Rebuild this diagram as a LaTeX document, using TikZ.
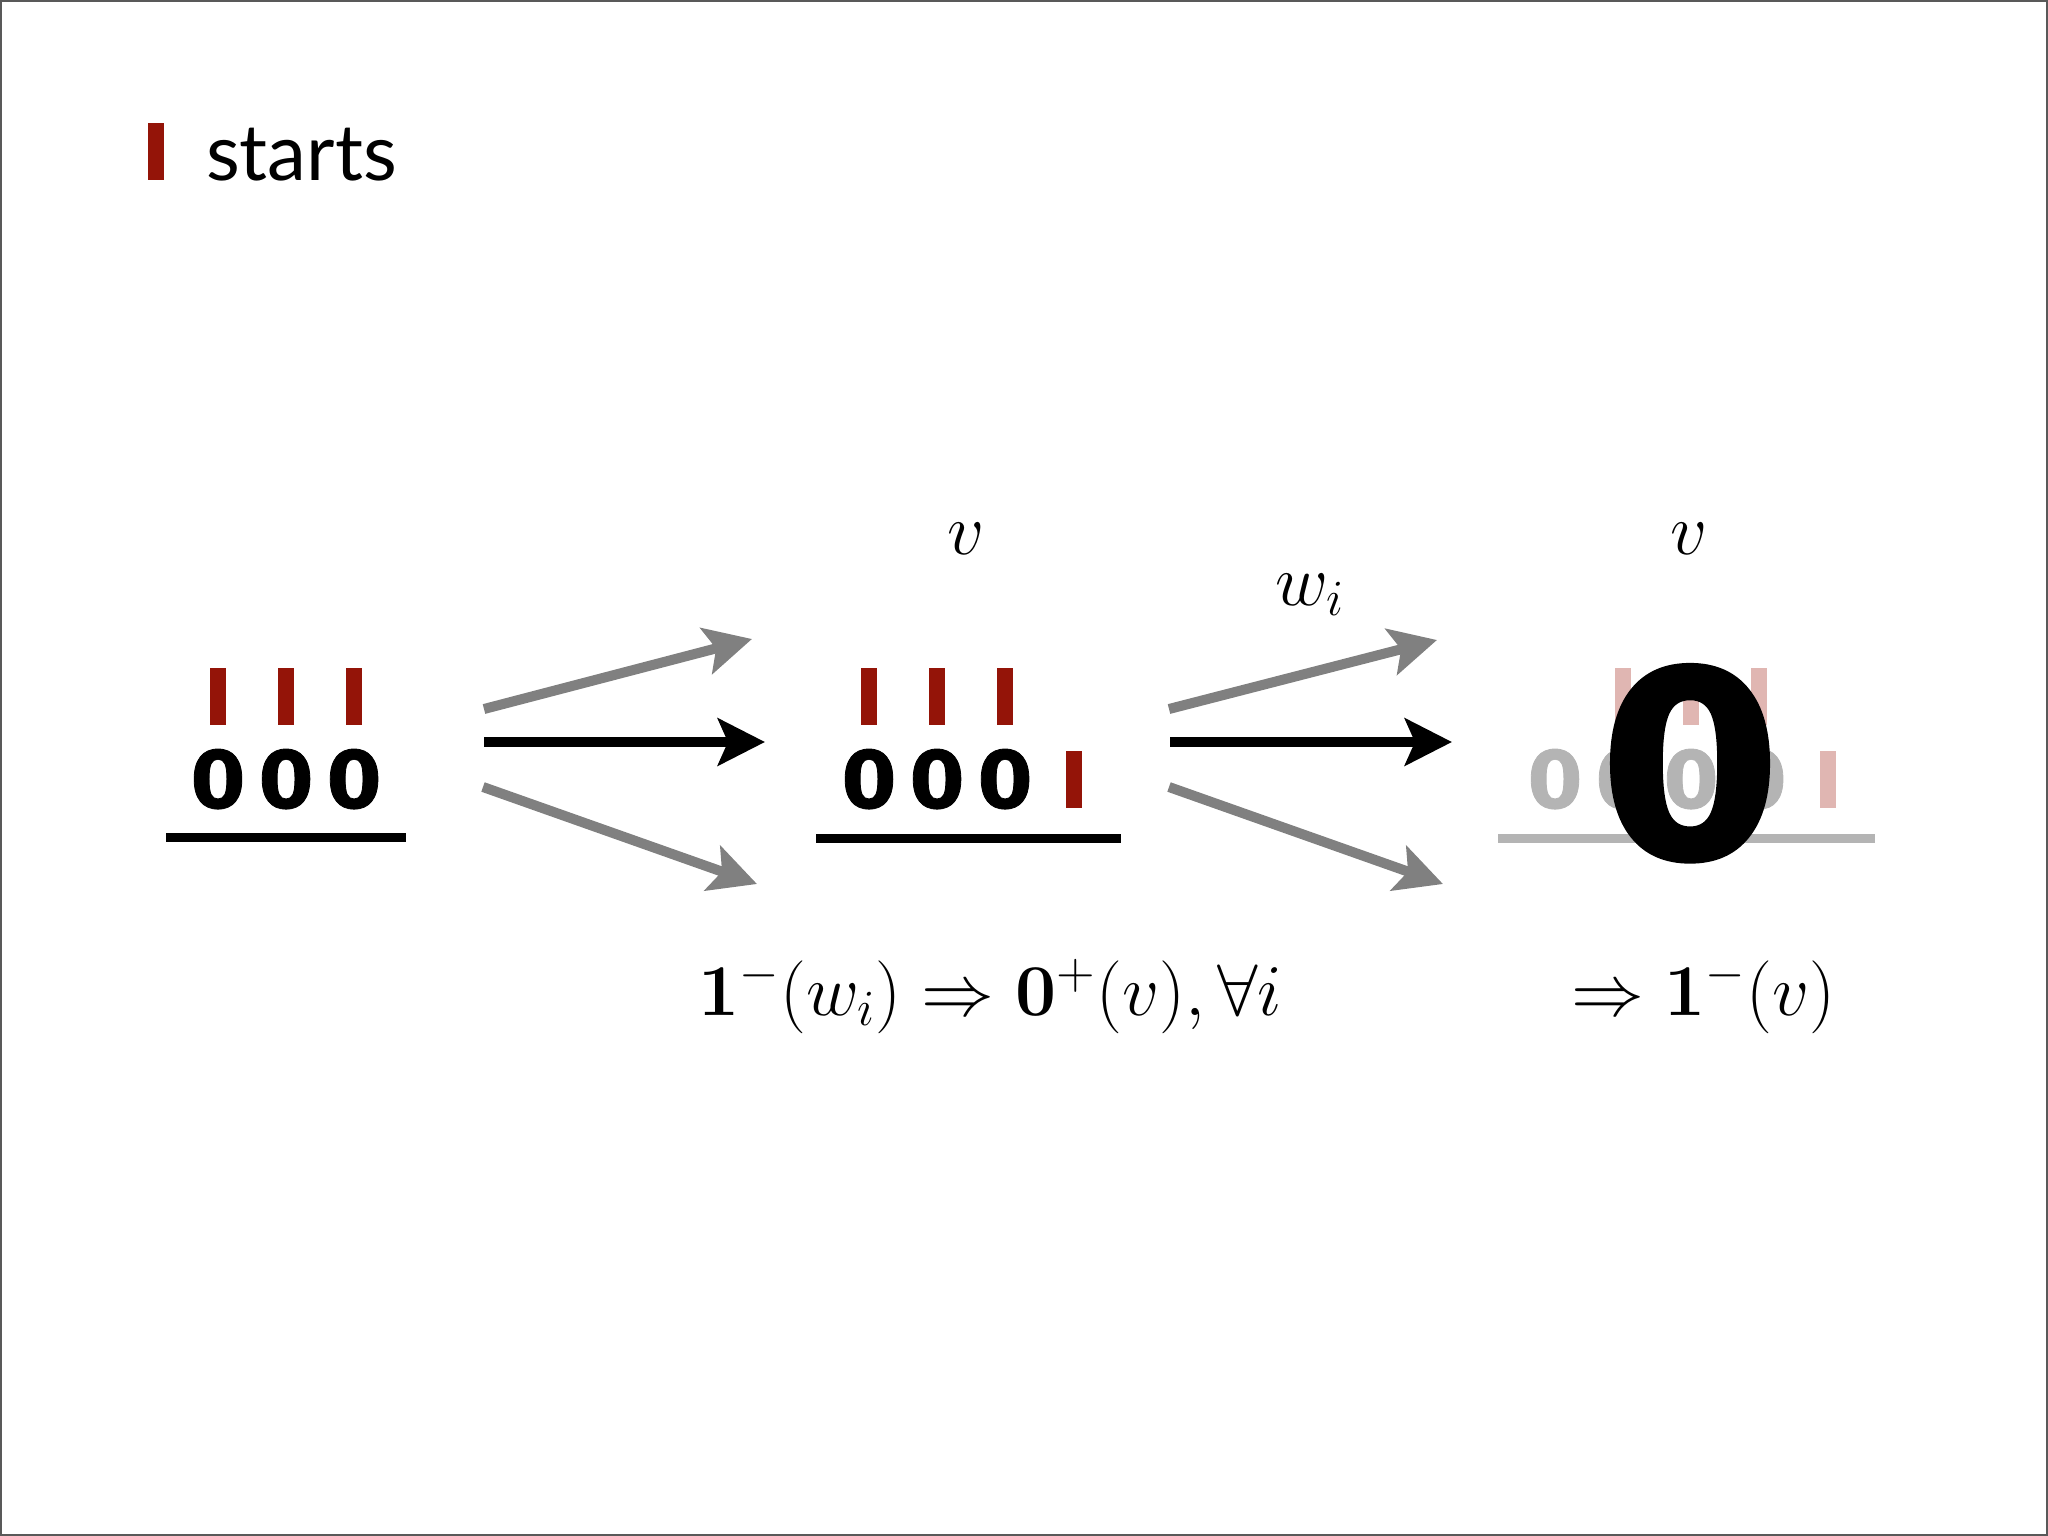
\documentclass[tikz,border=0pt]{standalone}
\usepackage[no-math]{fontspec}
\setmainfont{Lato}
\newfontfamily\digitfont{DejaVu Sans}[FakeBold=1]
\newfontfamily\bigdigitfont{DejaVu Sans}[FakeBold=1.5]
\usetikzlibrary{positioning,arrows.meta}

\definecolor{barred}{RGB}{148,20,8}
\definecolor{barpink}{RGB}{224,182,178}
\definecolor{arrowgray}{RGB}{128,128,128}
\definecolor{fadegray}{RGB}{180,180,180}

\begin{document}
\begin{tikzpicture}
[ x=0.01cm, y=-0.01cm
, every node/.style={inner sep=0pt, outer sep=0pt}
, node distance=0.68cm
, digit/.style={font=\digitfont\bfseries\fontsize{22.6}{24}\selectfont}
, faded/.style={digit, text=fadegray}
, tick/.style={fill=barred, minimum width=0.16cm, minimum height=0.57cm}
, pale/.style={tick, fill=barpink}
, rule/.style={line width=0.09cm}
, flow/.style={line width=0.1cm, draw=arrowgray, -{Stealth[length=0.47cm, width=0.47cm, inset=0.1cm]}}
, main/.style={flow, draw=black}
, lbl/.style={font=\fontsize{20}{24}\selectfont}
]

\useasboundingbox (0,0) rectangle (2048,1536);
\draw[line width=0.02cm, black!65] (1,1) rectangle (2047,1535);

% title
\node[tick] (hbar) at (156,151.5) {};
\node[anchor=base west, font=\fontsize{22.2}{26}\selectfont] (title) at (206,180) {starts};

% left word
\node[digit, anchor=base] (lz1) at (218,808) {0};
\node[digit, right of=lz1] (lz2) {0};
\node[digit, right of=lz2] (lz3) {0};
\node[tick, above=0.24cm of lz1] (lt1) {};
\node[tick, above=0.24cm of lz2] (lt2) {};
\node[tick, above=0.24cm of lz3] (lt3) {};
\draw[rule] (166,837) -- (406,837);

% middle word
\node[digit, anchor=base] (mz1) at (869,808) {0};
\node[digit, right of=mz1] (mz2) {0};
\node[digit, right of=mz2] (mz3) {0};
\node[tick, above=0.24cm of mz1] (mt1) {};
\node[tick, above=0.24cm of mz2] (mt2) {};
\node[tick, above=0.24cm of mz3] (mt3) {};
\node[tick, right=0.33cm of mz3] (mx) {};
\draw[rule] (816,838) -- (1121,838);
\node[lbl, anchor=base] (vmid) at (966,554) {$v$};

% right word, faded
\node[faded, anchor=base] (rz1) at (1555,808) {0};
\node[faded, right of=rz1] (rz2) {0};
\node[faded, right of=rz2] (rz3) {0};
\node[faded, right of=rz3] (rz4) {0};
\node[pale, above=0.24cm of rz2] (rt2) {};
\node[pale, above=0.24cm of rz3] (rt3) {};
\node[pale, above=0.24cm of rz4] (rt4) {};
\node[pale, right=0.33cm of rz4] (rx) {};
\draw[rule, fadegray] (1498,838) -- (1875,838);
\node[lbl, anchor=base] (vright) at (1689,554) {$v$};
\node[font=\bigdigitfont\bfseries\fontsize{74}{80}\selectfont, anchor=base] (big) at (1690,858) {0};

% arrows
\coordinate (a1s) at (484,709);
\coordinate (a1e) at (752,639);
\coordinate (a2s) at (484,742);
\coordinate (a2e) at (765,742);
\coordinate (a3s) at (483,787);
\coordinate (a3e) at (757,884);
\coordinate (b1s) at (1169,709);
\coordinate (b1e) at (1437,640);
\coordinate (b2s) at (1170,742);
\coordinate (b2e) at (1452,742);
\coordinate (b3s) at (1169,787);
\coordinate (b3e) at (1443,884);

\draw[flow] (a1s) -- (a1e);
\draw[main] (a2s) -- (a2e);
\draw[flow] (a3s) -- (a3e);
\draw[flow] (b1s) -- (b1e);
\draw[main] (b2s) -- (b2e);
\draw[flow] (b3s) -- (b3e);
\node[lbl, anchor=base] (wlbl) at (1310,605) {$w_i$};

% rules
\node[lbl, anchor=base west] (rule1) at (698,1015) {$\mathbf{1}^-(w_i)\Rightarrow\mathbf{0}^+(v),\forall i$};
\node[lbl, anchor=base west] (rule2) at (1571,1015) {$\Rightarrow\mathbf{1}^-(v)$};

\end{tikzpicture}
\end{document}
